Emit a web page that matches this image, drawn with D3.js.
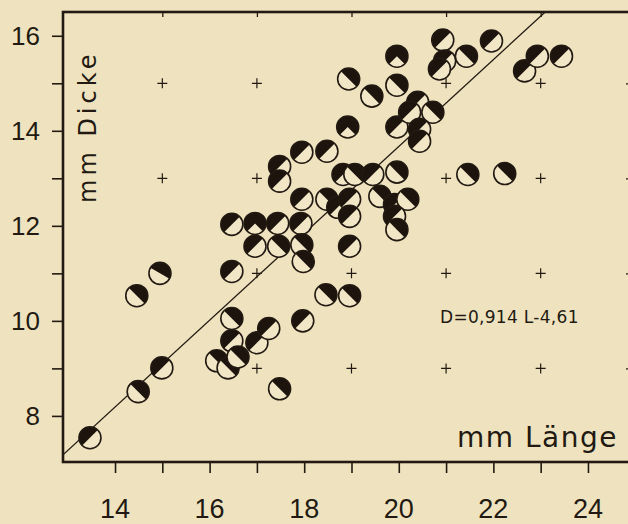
<!DOCTYPE html>
<html>
<head>
<meta charset="utf-8">
<title>Dicke gegen Länge</title>
<script src="https://d3js.org/d3.v7.min.js"></script>
<style>
  body { margin: 0; background: #efe3bf; }
  svg { display: block; }
  text { font-family: "Liberation Sans", Arial, sans-serif; fill: #221a12; }
  .title { font-family: "DejaVu Sans", sans-serif; }
</style>
</head>
<body>
<script>
// measured points: length (mm), thickness (mm), direction of the black half (deg), black share (deg)
var lengthMM = [13.47, 14.49, 14.99, 14.46, 14.95, 16.47, 16.47, 16.15, 16.39, 16.6,
  17.0, 17.25, 17.97, 17.48, 18.46, 18.96, 16.47, 16.47, 16.96, 17.44,
  17.93, 16.96, 17.46, 17.95, 17.98, 17.48, 17.48, 17.95, 18.48, 17.95,
  18.48, 18.71, 18.96, 18.96, 18.96, 18.82, 19.07, 19.45, 19.6, 19.91,
  20.19, 19.91, 19.96, 19.96, 18.92, 18.94, 19.43, 19.96, 19.96, 19.96,
  20.4, 20.23, 20.72, 20.44, 20.44, 20.93, 20.97, 20.86, 21.43, 21.96,
  22.66, 22.93, 23.44, 21.46, 22.24];
var thickMM = [7.54, 8.51, 9.01, 10.53, 11.0, 10.05, 9.58, 9.16, 9.01, 9.24,
  9.54, 9.84, 10.0, 8.57, 10.55, 10.53, 11.04, 12.03, 12.05, 12.05,
  12.05, 11.57, 11.57, 11.6, 11.25, 13.25, 12.94, 13.55, 13.57, 12.56,
  12.56, 12.39, 12.56, 12.2, 11.57, 13.08, 13.08, 13.08, 12.62, 12.45,
  12.56, 12.2, 11.92, 13.13, 14.08, 15.09, 14.73, 15.57, 14.96, 14.08,
  14.6, 14.39, 14.39, 14.03, 13.78, 15.91, 15.47, 15.3, 15.57, 15.89,
  15.26, 15.57, 15.57, 13.08, 13.1];
var blackDir = [135, 45, 135, 45, 60, 45, 135, 45, 45, 45,
  135, 135, 135, 45, 45, 45, 135, 135, 90, 135,
  135, 135, 45, 45, 45, 135, 135, 135, 135, 135,
  45, 135, 135, 135, 135, 135, 45, 135, 45, 135,
  45, 135, 45, 45, 90, 45, 45, 90, 45, 135,
  135, 135, 45, 135, 135, 135, 135, 135, 45, 135,
  135, 135, 135, 45, 45];
var blackSpan = lengthMM.map(function(d, i) { return blackDir[i] === 90 ? 270 : 180; });

var xTicks = [14, 15, 16, 17, 18, 19, 20, 21, 22, 23, 24];
var yTicks = [8, 9, 10, 11, 12, 13, 14, 15, 16];
var gridX = [15, 17, 19, 21, 23];
var gridY = [9, 11, 13, 15];

// regression D = 0,914 L - 4,61
var slope = 0.914, intercept = -4.61;

var width = 628, height = 524;
var ink = "#221a12";

var svg = d3.select("body").append("svg")
  .attr("width", width)
  .attr("height", height);

var x = d3.scaleLinear().domain([12.9, 24.91]).range([63, 631]);
var y = d3.scaleLinear().domain([7.03, 16.5]).range([462, 12]);

svg.append("clipPath").attr("id", "frame")
  .append("rect")
  .attr("x", x(12.9)).attr("y", y(16.5))
  .attr("width", x(24.91) - x(12.9)).attr("height", y(7.03) - y(16.5));

// small crosses in the field
var cross = [];
gridX.forEach(function(a) { gridY.forEach(function(b) { cross.push([a, b]); }); });
svg.append("g").selectAll("path").data(cross).enter().append("path")
  .attr("d", function(d) {
    var cx = x(d[0]), cy = y(d[1]);
    return "M" + (cx - 5) + "," + cy + "H" + (cx + 5) + "M" + cx + "," + (cy - 5) + "V" + (cy + 5);
  })
  .attr("stroke", ink).attr("stroke-width", 1.2);

// axes, outward ticks left and bottom
svg.append("g")
  .attr("transform", "translate(0," + y(7.03) + ")")
  .call(d3.axisBottom(x).tickValues(xTicks).tickSize(11).tickFormat(""))
  .call(function(g) {
    g.select(".domain").remove();
    g.selectAll("line").attr("stroke", ink).attr("stroke-width", 1.6);
  });
svg.append("g")
  .attr("transform", "translate(" + x(12.9) + ",0)")
  .call(d3.axisLeft(y).tickValues(yTicks).tickSize(11).tickFormat(""))
  .call(function(g) {
    g.select(".domain").remove();
    g.selectAll("line").attr("stroke", ink).attr("stroke-width", 1.6);
  });
// inner ticks on top and right
svg.append("g")
  .attr("transform", "translate(0," + y(16.5) + ")")
  .call(d3.axisTop(x).tickValues(gridX).tickSize(-5).tickFormat(""))
  .call(function(g) {
    g.select(".domain").remove();
    g.selectAll("line").attr("stroke", ink).attr("stroke-width", 1.3);
  });
svg.append("g")
  .attr("transform", "translate(" + x(24.91) + ",0)")
  .call(d3.axisRight(y).tickValues(gridY).tickSize(-5).tickFormat(""))
  .call(function(g) {
    g.select(".domain").remove();
    g.selectAll("line").attr("stroke", ink).attr("stroke-width", 1.3);
  });

// tick labels
svg.append("g").selectAll("text").data(xTicks.filter(function(d) { return d % 2 === 0; }))
  .enter().append("text")
  .attr("x", function(d) { return x(d); })
  .attr("y", 518)
  .attr("text-anchor", "middle")
  .style("font-size", "27px")
  .text(function(d) { return d; });
svg.append("g").selectAll("text").data(yTicks.filter(function(d) { return d % 2 === 0; }))
  .enter().append("text")
  .attr("x", 40)
  .attr("y", function(d) { return y(d) + 9.5; })
  .attr("text-anchor", "end")
  .style("font-size", "26px")
  .text(function(d) { return d; });

// regression line
var lineL = [12.9, 24.91];
svg.append("path")
  .datum(lineL)
  .attr("clip-path", "url(#frame)")
  .attr("d", d3.line()
    .x(function(d) { return x(d); })
    .y(function(d) { return y(slope * d + intercept); }))
  .attr("stroke", ink).attr("stroke-width", 1.3).attr("fill", "none");

// half filled circles
var r = 11;
var arc = d3.arc().innerRadius(0).outerRadius(r);
var pts = lengthMM.map(function(d, i) {
  return { L: d, D: thickMM[i], dir: blackDir[i], span: blackSpan[i] };
});
var g = svg.append("g").selectAll("g").data(pts).enter().append("g")
  .attr("transform", function(d) { return "translate(" + x(d.L) + "," + y(d.D) + ")"; });
g.append("circle").attr("r", r).attr("fill", "#f1e6c6");
g.append("path")
  .attr("d", function(d) {
    var mid = (90 - d.dir) * Math.PI / 180, h = d.span / 2 * Math.PI / 180;
    return arc({ startAngle: mid - h, endAngle: mid + h });
  })
  .attr("fill", "#1d140d");
g.append("circle").attr("r", r).attr("fill", "none").attr("stroke", ink).attr("stroke-width", 1.6);

// frame
svg.append("rect")
  .attr("x", x(12.9)).attr("y", y(16.5))
  .attr("width", x(24.91) - x(12.9)).attr("height", y(7.03) - y(16.5))
  .attr("fill", "none").attr("stroke", ink).attr("stroke-width", 2.6);

// texts
svg.append("text").attr("class", "title")
  .attr("transform", "translate(96,203) rotate(-90)")
  .style("font-size", "24px").style("letter-spacing", "4px")
  .text("mm Dicke");
svg.append("text").attr("class", "title")
  .attr("x", 457).attr("y", 447)
  .style("font-size", "28px").style("letter-spacing", "1.5px")
  .text("mm Länge");
svg.append("text").attr("class", "title")
  .attr("x", 440).attr("y", 323)
  .style("font-size", "17px").style("letter-spacing", "0.3px")
  .text("D=0,914 L-4,61");
</script>
</body>
</html>
